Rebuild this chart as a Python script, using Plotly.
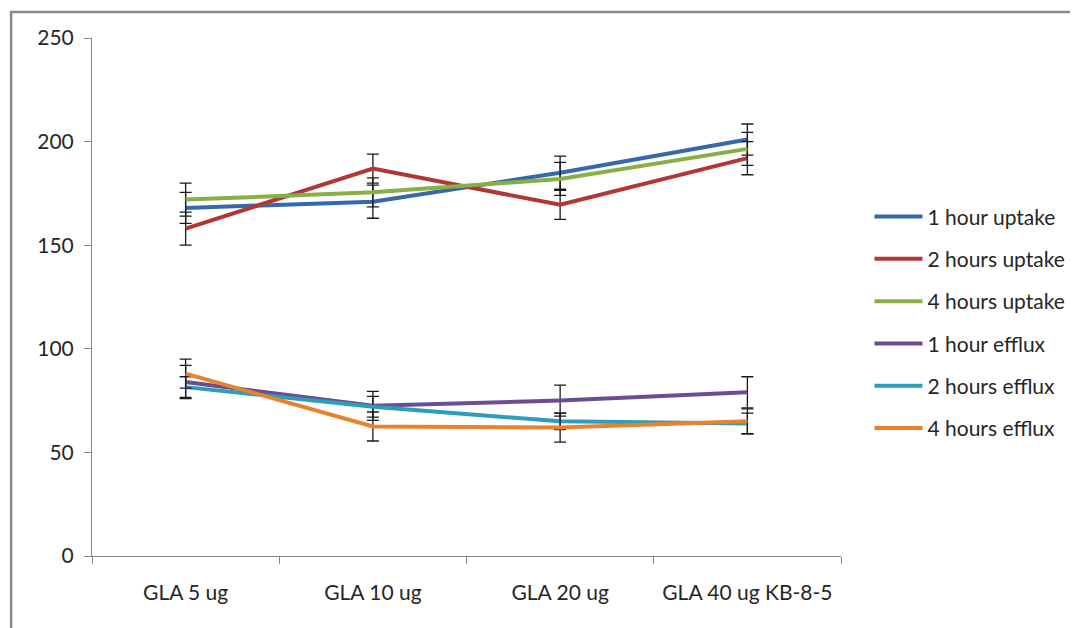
import plotly.graph_objects as go

categories = ["GLA 5 ug", "GLA 10 ug", "GLA 20 ug", "GLA 40 ug KB-8-5"]

series_names = ["1 hour uptake", "2 hours uptake", "4 hours uptake",
                "1 hour efflux", "2 hours efflux", "4 hours efflux"]

uptake_1h = [168, 171, 185, 201]
uptake_2h = [158, 187, 169.5, 192]
uptake_4h = [172, 175.5, 182, 196.5]
efflux_1h = [84, 72.5, 75, 79]
efflux_2h = [81.5, 72, 65, 64]
efflux_4h = [88, 62.5, 62, 65]

err_uptake_1h = [7.5, 8, 8, 7.5]
err_uptake_2h = [8, 7, 7, 8]
err_uptake_4h = [8, 7, 8, 8]
err_efflux_1h = [8, 7, 7.5, 7.5]
err_efflux_2h = [5, 5, 4, 5]
err_efflux_4h = [7, 7, 7, 6]

values = [uptake_1h, uptake_2h, uptake_4h, efflux_1h, efflux_2h, efflux_4h]
errors = [err_uptake_1h, err_uptake_2h, err_uptake_4h,
          err_efflux_1h, err_efflux_2h, err_efflux_4h]
colors = ["#3568AC", "#B03734", "#88AF44", "#6C4D94", "#2E9DBB", "#E9822D"]

FONT = "Lato"
FS = 21

fig = go.Figure()
for i, (name, vals, errs, col) in enumerate(zip(series_names, values, errors, colors)):
    fig.add_trace(go.Scatter(
        x=categories, y=vals, name=name, mode="lines",
        line=dict(color=col, width=4),
        error_y=dict(type="data", array=errs, visible=True,
                     color="#1a1a1a", thickness=1.3, width=6),
        legendgroup=f"g{i}",
    ))

fig.update_layout(
    width=1078, height=628,
    margin=dict(l=84, r=245, t=30, b=80),
    paper_bgcolor="white", plot_bgcolor="white",
    font=dict(family=FONT, size=FS, color="#262626"),
    showlegend=True,
    legend=dict(x=1.038, y=0.451, xanchor="left", yanchor="middle",
                traceorder="grouped", tracegroupgap=12, itemwidth=48,
                font=dict(family=FONT, size=FS, color="#262626"),
                bgcolor="rgba(0,0,0,0)"),
    xaxis=dict(type="category", tickson="boundaries", ticks="outside",
               ticklen=7, tickcolor="#888888", showline=True,
               linecolor="#888888", linewidth=1, showgrid=False,
               zeroline=False, tickfont=dict(size=FS), range=[-0.5, 3.5],
               ticklabelstandoff=18),
    yaxis=dict(range=[0, 250], tickvals=[0, 50, 100, 150, 200, 250],
               ticks="outside", ticklen=7, tickcolor="#888888",
               showline=True, linecolor="#888888", linewidth=1,
               showgrid=False, zeroline=False, tickfont=dict(size=FS),
               ticklabelstandoff=6),
    shapes=[dict(type="rect", xref="paper", yref="paper",
                 x0=-0.108, x1=1.35, y0=-0.2, y1=1.0502,
                 line=dict(color="#888888", width=2.5))],
)

fig.write_html("out.html")
